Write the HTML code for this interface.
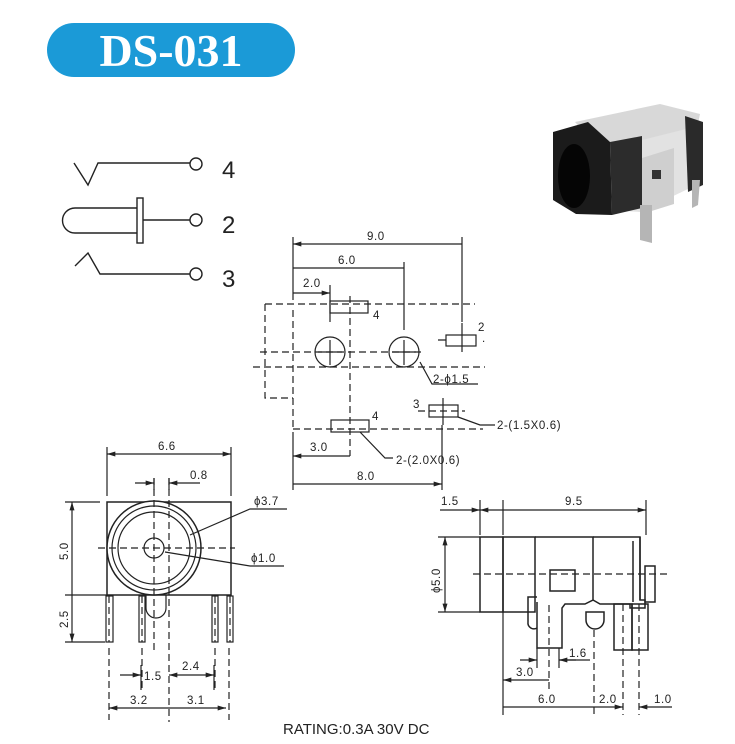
<!DOCTYPE html>
<html><head><meta charset="utf-8"><style>
html,body{margin:0;padding:0;background:#fff;width:735px;height:744px;overflow:hidden}
svg{display:block}
text{font-family:"Liberation Sans",sans-serif;fill:#222}
.d{font-size:11.5px;letter-spacing:0.6px}
</style></head><body>
<svg width="735" height="744" viewBox="0 0 735 744" xmlns="http://www.w3.org/2000/svg">
<defs>
<marker id="a" viewBox="0 0 10 6" refX="10" refY="3" markerWidth="9" markerHeight="5" orient="auto-start-reverse" markerUnits="userSpaceOnUse"><path d="M0,0L10,3L0,6z" fill="#222"/></marker>
</defs>
<rect x="47" y="23" width="248" height="54" rx="27" fill="#1b9ad7"/>
<text x="171" y="66" text-anchor="middle" style="font-family:'Liberation Serif',serif;font-weight:bold;font-size:46px;fill:#fff">DS-031</text>

<g stroke="#222" stroke-width="1.4" fill="none">
<path d="M74,163L88,185L98,163H190"/><circle cx="196" cy="164" r="6"/>
<path d="M137,208H75A12.5,12.5 0 0 0 75,233H137"/><rect x="137" y="198" width="6" height="45"/><path d="M143,220H190"/><circle cx="196" cy="220" r="6"/>
<path d="M75,266L88,253L100,274H190"/><circle cx="196" cy="274" r="6"/>
</g>
<text x="222" y="178" style="font-size:24px">4</text>
<text x="222" y="233" style="font-size:24px">2</text>
<text x="222" y="287" style="font-size:24px">3</text>

<g>
<path d="M575,122L660,104L700,114L695,138L600,150z" fill="#d8d8d8"/>
<path d="M610,148L690,128L690,188L640,212L610,210z" fill="#e2e2e2"/>
<path d="M685,116L703,122L703,185L688,192z" fill="#2a2a2a"/>
<path d="M553,132L588,122L610,142L612,215L576,214L553,200z" fill="#1b1b1b"/>
<ellipse cx="574" cy="176" rx="16" ry="32" fill="#050505"/>
<path d="M610,142L642,136L642,208L612,215z" fill="#2c2c2c"/>
<path d="M642,158L674,148L674,204L642,214z" fill="#cfcfcf"/>
<rect x="652" y="170" width="9" height="9" fill="#333"/>
<path d="M640,205L652,205L652,243L640,240z" fill="#b5b5b5"/>
<path d="M692,180L700,180L698,205L692,208z" fill="#b5b5b5"/>
</g>

<g stroke="#222" stroke-width="1.2" fill="none">
<path d="M293,237V300M462,237V322M404,262V330M330,285V322"/>
<path d="M293,244H462M293,268H404M293,293H330" marker-start="url(#a)" marker-end="url(#a)"/>
<g stroke-dasharray="7,4">
<path d="M265,304H475M265,304V398H293M293,310V430M350,296V456M260,352H425M253,367H485M293,429H483M418,411H465"/>
</g>
<rect x="330" y="301" width="38" height="12"/>
<circle cx="330" cy="352" r="15"/><circle cx="404" cy="352" r="15"/>
<path d="M330,340V365M318,352H342M404,340V365M392,352H416"/>
<rect x="446" y="335" width="30" height="11"/><path d="M462,323V352M438,340H446"/>
<rect x="429" y="405" width="29" height="12"/><path d="M443,398V425"/>
<rect x="331" y="420" width="38" height="12"/>
<path d="M420,362L432,384H478M458,417L480,425H495M360,432L385,458H393"/>
<path d="M293,432V490M442,425V490"/>
<path d="M293,456H350M293,484H442" marker-start="url(#a)" marker-end="url(#a)"/>
</g>
<text class="d" x="367" y="240">9.0</text>
<text class="d" x="338" y="264">6.0</text>
<text class="d" x="303" y="287">2.0</text>
<text class="d" x="373" y="319">4</text>
<text class="d" x="478" y="331">2</text><text class="d" x="482" y="342">.</text>
<text class="d" x="433" y="383">2-ϕ1.5</text>
<text class="d" x="413" y="408">3</text>
<text class="d" x="497" y="429">2-(1.5X0.6)</text>
<text class="d" x="372" y="420">4</text>
<text class="d" x="396" y="464">2-(2.0X0.6)</text>
<text class="d" x="310" y="451">3.0</text>
<text class="d" x="357" y="480">8.0</text>

<g stroke="#222" stroke-width="1.2" fill="none">
<path d="M107,447V496M231,447V496"/>
<path d="M107,454H231" marker-start="url(#a)" marker-end="url(#a)"/>
<path d="M135,483H154" marker-end="url(#a)"/><path d="M200,483H169" marker-end="url(#a)"/>
<path d="M154,478V490M169,478V490"/>
<rect x="107" y="502" width="124" height="93" stroke-width="1.5"/>
<circle cx="154" cy="548" r="47" stroke-width="1.5" fill="#fff"/>
<circle cx="154" cy="548" r="42"/>
<circle cx="154" cy="548" r="36"/>
<circle cx="154" cy="548" r="10"/>
<path d="M146,595V608A10,10 0 0 0 166,608V595"/>
<rect x="106" y="596" width="7" height="46"/><rect x="139" y="596" width="6" height="46"/>
<rect x="212" y="596" width="6" height="46"/><rect x="227" y="596" width="6" height="46"/>
<g stroke-dasharray="7,4">
<path d="M154,478V650M169,478V722M98,548H235M109,596V642M142,596V642M215,596V642M230,596V642"/>
<path d="M109,648V720M142,648V690M215,648V690M229,648V720"/>
</g>
<path d="M190,535L250,509H287M165,552L250,566H284"/>
<path d="M65,502H100M65,595H107M65,642H105"/>
<path d="M72,502V595M72,595V642" marker-start="url(#a)" marker-end="url(#a)"/>
<path d="M120,675H141" marker-end="url(#a)"/><path d="M141,665V690"/>
<path d="M169,675H214" marker-start="url(#a)" marker-end="url(#a)"/><path d="M214,665V690"/>
<path d="M109,708H169M169,708H226" marker-start="url(#a)" marker-end="url(#a)"/>
</g>
<text class="d" x="158" y="450">6.6</text>
<text class="d" x="190" y="479">0.8</text>
<text class="d" x="254" y="505">ϕ3.7</text>
<text class="d" x="251" y="562">ϕ1.0</text>
<text class="d" transform="translate(68,560) rotate(-90)">5.0</text>
<text class="d" transform="translate(68,628) rotate(-90)">2.5</text>
<text class="d" x="144" y="680">1.5</text>
<text class="d" x="182" y="670">2.4</text>
<text class="d" x="130" y="704">3.2</text>
<text class="d" x="187" y="704">3.1</text>

<g stroke="#222" stroke-width="1.2" fill="none">
<path d="M480,500V535M503,500V535M646,500V535"/>
<path d="M440,510H480" marker-end="url(#a)"/>
<path d="M480,510H503M503,510H646" marker-start="url(#a)" marker-end="url(#a)"/>
<path d="M438,537H480M438,612H480"/>
<path d="M445,537V612" marker-start="url(#a)" marker-end="url(#a)"/>
<g stroke-width="1.5">
<rect x="480" y="537" width="23" height="75"/>
<rect x="503" y="537" width="32" height="75"/>
<path d="M535,537H593V600L585,604H565L562,608V648H537V602"/>
<path d="M593,537H640V600H645V608H630V604H600L593,600"/>
<path d="M640,537V600M633,541V602"/>
<rect x="550" y="570" width="25" height="21"/>
<rect x="645" y="566" width="10" height="36"/>
<path d="M537,597H528V622A6,6 0 0 0 537,628"/>
<path d="M586,612V620A9,9 0 0 0 604,620V612Z"/>
<rect x="614" y="604" width="18" height="46"/><rect x="632" y="604" width="16" height="46"/>
</g>
<g stroke-dasharray="7,4">
<path d="M473,574H668M549,605V690M594,630V715M623,604V715M639,604V715"/>
</g>
<path d="M503,612V715M537,648V668M559,648V668"/>
<path d="M520,660H537" marker-end="url(#a)"/><path d="M576,660H559" marker-end="url(#a)"/><path d="M559,660H590"/>
<path d="M503,680H549M503,707H594M594,707H623" marker-start="url(#a)" marker-end="url(#a)"/>
<path d="M672,707H639" marker-end="url(#a)"/>
</g>
<text class="d" x="441" y="505">1.5</text>
<text class="d" x="565" y="505">9.5</text>
<text class="d" transform="translate(440,593) rotate(-90)">ϕ5.0</text>
<text class="d" x="569" y="657">1.6</text>
<text class="d" x="516" y="676">3.0</text>
<text class="d" x="538" y="703">6.0</text>
<text class="d" x="599" y="703">2.0</text>
<text class="d" x="654" y="703">1.0</text>

<text x="283" y="734" style="font-size:15px">RATING:0.3A 30V DC</text>
</svg>
</body></html>
